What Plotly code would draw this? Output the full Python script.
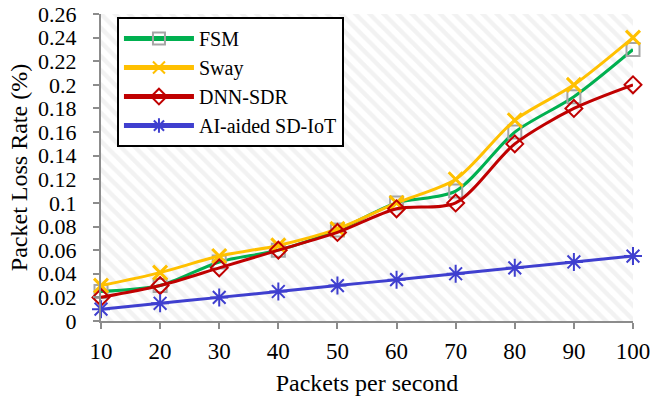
import plotly.graph_objects as go

packets = [10, 20, 30, 40, 50, 60, 70, 80, 90, 100]
fsm = [0.025, 0.030, 0.050, 0.060, 0.077, 0.100, 0.110, 0.160, 0.190, 0.230]
sway = [0.030, 0.041, 0.055, 0.064, 0.078, 0.100, 0.120, 0.170, 0.200, 0.240]
dnn_sdr = [0.020, 0.030, 0.045, 0.060, 0.075, 0.095, 0.100, 0.150, 0.180, 0.200]
ai_sdiot = [0.010, 0.015, 0.020, 0.025, 0.030, 0.035, 0.040, 0.045, 0.050, 0.055]

y_ticks = [0, 0.02, 0.04, 0.06, 0.08, 0.1, 0.12, 0.14, 0.16, 0.18, 0.2, 0.22, 0.24, 0.26]
y_labels = ["0", "0.02", "0.04", "0.06", "0.08", "0.1", "0.12", "0.14", "0.16", "0.18", "0.2", "0.22", "0.24", "0.26"]
x_range = [10, 100]
y_range = [0, 0.26]

FONT = "Liberation Serif"

fig = go.Figure()

# hatched plot-area background
fig.add_trace(go.Scatter(
    x=[x_range[0], x_range[1], x_range[1], x_range[0], x_range[0]],
    y=[y_range[0], y_range[0], y_range[1], y_range[1], y_range[0]],
    mode="none", fill="toself", fillcolor="rgba(0,0,0,0)",
    fillpattern=dict(shape="\\", size=10, solidity=0.45, fgcolor="#E6E6E6", bgcolor="white"),
    showlegend=False, hoverinfo="skip"))

series = [
    ("FSM", fsm, "#00B050", dict(symbol="square-open", size=13, color="#A5A5A5", line=dict(width=2, color="#A5A5A5"))),
    ("Sway", sway, "#FFC000", dict(symbol="x-thin-open", size=14, color="#FFC000", line=dict(width=3, color="#FFC000"))),
    ("DNN-SDR", dnn_sdr, "#C00000", dict(symbol="diamond-open", size=13, color="#C00000", line=dict(width=2, color="#C00000"))),
    ("AI-aided SD-IoT", ai_sdiot, "#3F3FCF", dict(symbol="asterisk-open", size=15, color="#3F3FCF", line=dict(width=2, color="#3F3FCF"))),
]
for name, ys, col, mk in series:
    fig.add_trace(go.Scatter(
        x=packets, y=ys, name=name, mode="lines+markers",
        line=dict(color=col, width=3, shape="spline", smoothing=0.8),
        marker=mk, cliponaxis=False))

fig.update_layout(
    width=653, height=396,
    margin=dict(l=101, r=20, t=14, b=75, autoexpand=False),
    paper_bgcolor="white", plot_bgcolor="white",
    font=dict(family=FONT, size=20, color="black"),
    showlegend=True,
    legend=dict(x=0.03, y=0.99, xanchor="left", yanchor="top",
                bgcolor="white", bordercolor="black", borderwidth=2,
                font=dict(family=FONT, size=20), tracegroupgap=0,
                itemsizing="constant", itemwidth=70),
    xaxis=dict(range=x_range, tickvals=packets, ticktext=[str(p) for p in packets],
               automargin=False,
               showgrid=True, gridcolor="#D9D9D9", gridwidth=1,
               showline=True, linecolor="#8C8C8C", linewidth=2,
               ticks="outside", ticklen=6, tickcolor="#8C8C8C", tickwidth=2,
               ticklabelstandoff=2,
               tickfont=dict(family=FONT, size=23), zeroline=False,
               title=dict(text="Packets per second", font=dict(family=FONT, size=24), standoff=12)),
    yaxis=dict(range=y_range, tickvals=y_ticks, ticktext=y_labels,
               automargin=False,
               showgrid=True, gridcolor="#D9D9D9", gridwidth=1,
               showline=True, linecolor="#8C8C8C", linewidth=2,
               ticks="outside", ticklen=6, tickcolor="#8C8C8C", tickwidth=2,
               ticklabelstandoff=12,
               tickfont=dict(family=FONT, size=22), zeroline=False,
               title=dict(text="Packet Loss Rate (%)", font=dict(family=FONT, size=24), standoff=4)),
)

fig.write_html("out.html", config={"displayModeBar": False},
               post_script="document.body.style.margin='0';")
